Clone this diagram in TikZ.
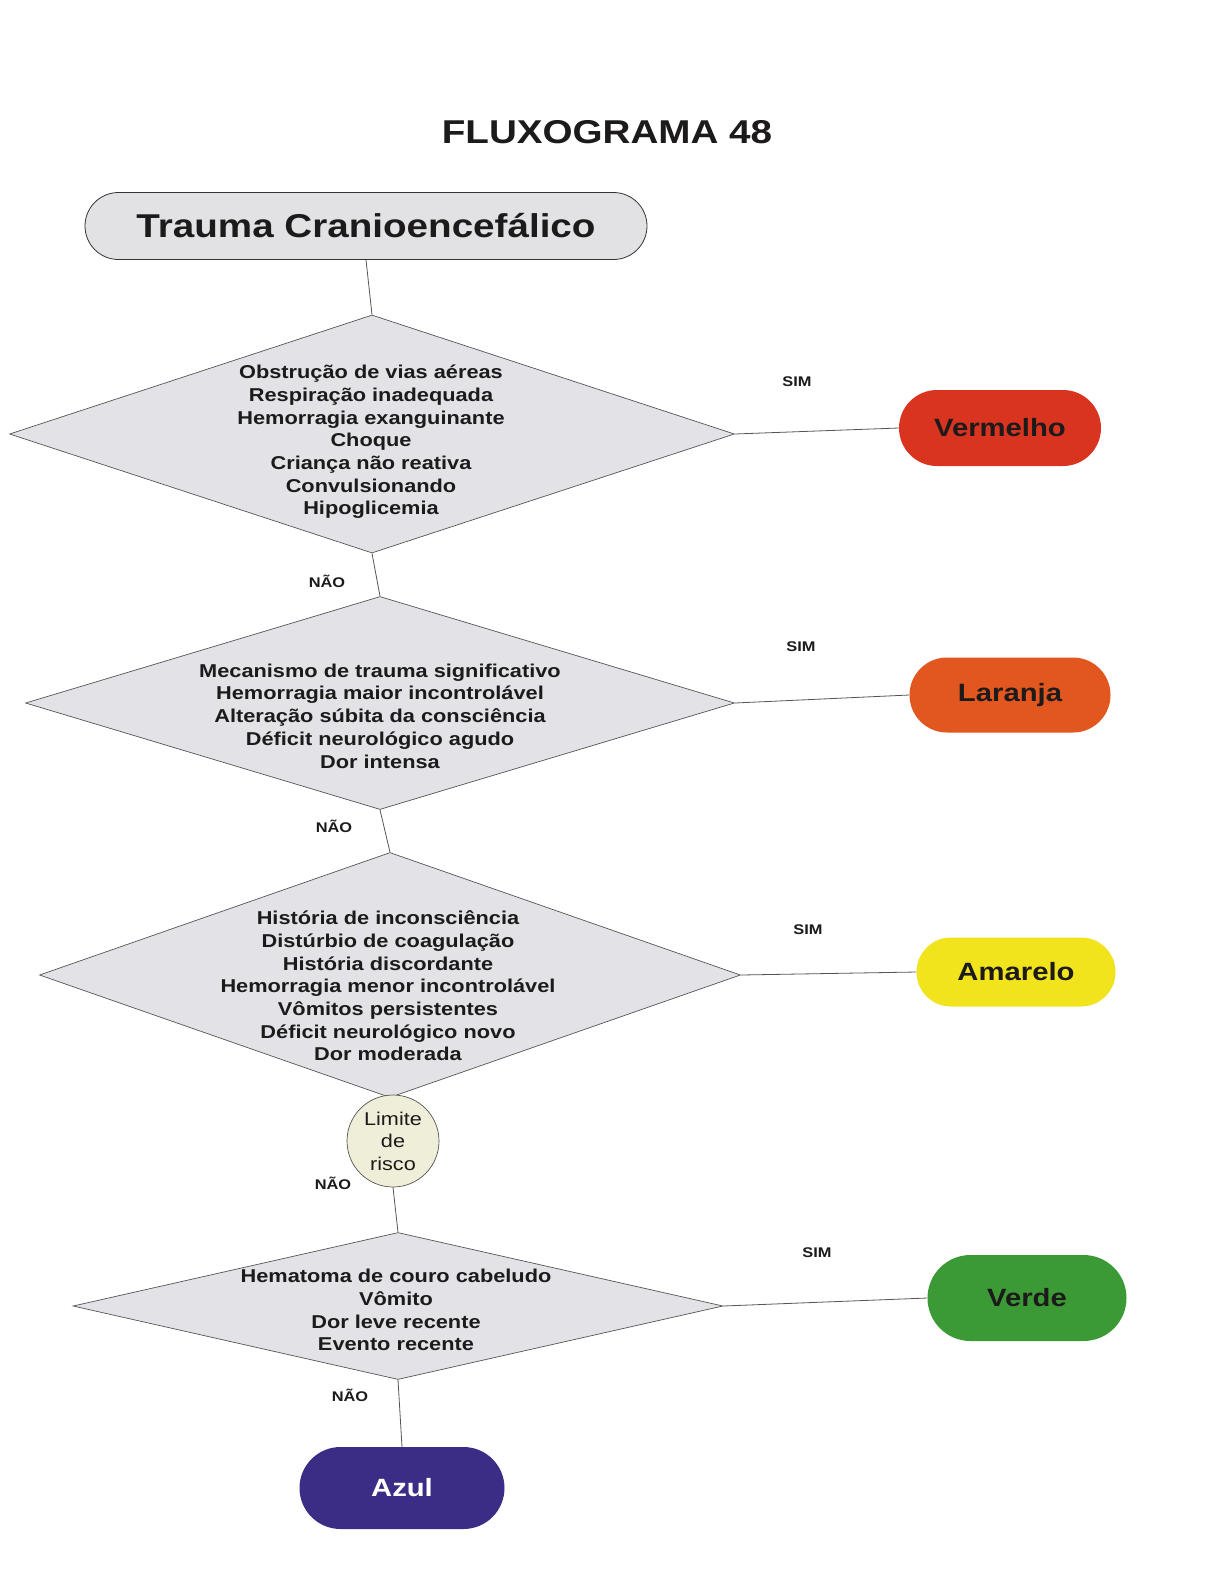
\documentclass[tikz,border=0pt]{standalone}
\usepackage{fontspec}
\setmainfont{Liberation Sans}[FakeStretch=1.17]
\usetikzlibrary{shapes.geometric,shapes.misc}
\definecolor{txt}{HTML}{1C1A1A}
\definecolor{linegray}{HTML}{555555}
\definecolor{diafill}{HTML}{E3E3E7}
\definecolor{startfill}{HTML}{E2E2E4}
\definecolor{riskfill}{HTML}{EFEED8}
\definecolor{cred}{HTML}{D8341F}
\definecolor{corange}{HTML}{E2561F}
\definecolor{cyellow}{HTML}{F1E41C}
\definecolor{cgreen}{HTML}{3C9A36}
\definecolor{cblue}{HTML}{3B2D85}
\begin{document}
\begin{tikzpicture}[x=1pt,y=-1pt,
  dia/.style={diamond, draw=linegray, fill=diafill, line width=0.7pt, inner sep=0pt},
  crit/.style={align=center, text=txt, font=\bfseries\fontsize{18.6}{22.7}\selectfont},
  lab/.style={text=txt, font=\bfseries\fontsize{14}{16}\selectfont},
  pill/.style={rounded rectangle, inner sep=0pt, text=txt, font=\bfseries\fontsize{25}{28}\selectfont},
  conn/.style={draw=linegray, line width=0.8pt}]
\useasboundingbox (0,0) rectangle (1215,1572);
\fill[white] (0,0) rectangle (1215,1572);

% title
\node[text=txt, font=\bfseries\fontsize{33}{38}\selectfont] (title) at (607,132) {FLUXOGRAMA 48};

% start
\node[rounded rectangle, draw=black!80, line width=0.8pt, fill=startfill, minimum width=562, minimum height=67, inner sep=0pt,
      text=txt, font=\bfseries\fontsize{33}{38}\selectfont] (start) at (366,226) {Trauma Cranioencefálico};

% diamonds
\node[dia, minimum width=725, minimum height=238] (d1) at (372,434) {};
\node[crit] (t1) at (371,442) {Obstrução de vias aéreas\\Respiração inadequada\\Hemorragia exanguinante\\Choque\\Criança não reativa\\Convulsionando\\Hipoglicemia};

\node[dia, minimum width=709, minimum height=213] (d2) at (380,703) {};
\node[crit] (t2) at (380,716) {Mecanismo de trauma significativo\\Hemorragia maior incontrolável\\Alteração súbita da consciência\\Déficit neurológico agudo\\Dor intensa};

\node[dia, minimum width=701, minimum height=245] (d3) at (390,975) {};
\node[crit] (t3) at (388,986) {História de inconsciência\\Distúrbio de coagulação\\História discordante\\Hemorragia menor incontrolável\\Vômitos persistentes\\Déficit neurológico novo\\Dor moderada};

\node[circle, draw=linegray, line width=0.7pt, fill=riskfill, minimum size=92, inner sep=0pt, align=center, text=txt,
      font=\fontsize{18.5}{22.5}\selectfont] (risk) at (393,1141) {Limite\\de\\risco};

\node[dia, minimum width=650, minimum height=147] (d4) at (398,1306) {};
\node[crit] (t4) at (396,1310) {Hematoma de couro cabeludo\\Vômito\\Dor leve recente\\Evento recente};

% outcomes
\node[pill, fill=cred, minimum width=202, minimum height=76] (red) at (1000,428) {Vermelho};
\node[pill, fill=corange, minimum width=201, minimum height=75] (orange) at (1010,695) {Laranja};
\node[pill, fill=cyellow, minimum width=199, minimum height=69] (yellow) at (1016,972) {Amarelo};
\node[pill, fill=cgreen, minimum width=199, minimum height=86] (green) at (1027,1298) {Verde};
\node[pill, fill=cblue, text=white, minimum width=205, minimum height=82] (blue) at (402,1488) {Azul};

% connectors
\draw[conn] (start.south) -- (d1.north);
\draw[conn] (d1.south) -- (d2.north);
\draw[conn] (d2.south) -- (d3.north);
\draw[conn] (risk.south) -- (d4.north);
\draw[conn] (d4.south) -- (blue.north);
\draw[conn] (d1.east) -- (red.west);
\draw[conn] (d2.east) -- (orange.west);
\draw[conn] (d3.east) -- (yellow.west);
\draw[conn] (d4.east) -- (green.west);

% labels
\node[lab] (sim1) at (797,382) {SIM};
\node[lab] (sim2) at (801,647) {SIM};
\node[lab] (sim3) at (808,930) {SIM};
\node[lab] (sim4) at (817,1253) {SIM};
\node[lab] (nao1) at (327,581) {NÃO};
\node[lab] (nao2) at (334,826) {NÃO};
\node[lab] (nao3) at (333,1183) {NÃO};
\node[lab] (nao4) at (350,1395) {NÃO};
\end{tikzpicture}
\end{document}
